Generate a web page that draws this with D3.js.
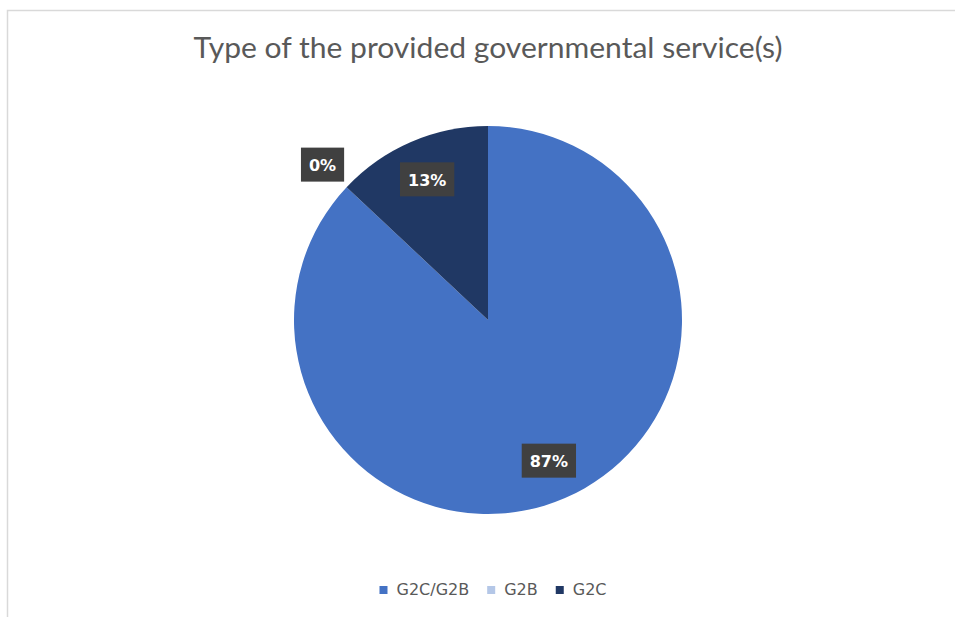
<!DOCTYPE html>
<html>
<head>
<meta charset="utf-8">
<script src="https://cdn.jsdelivr.net/npm/d3@7"></script>
<style>
  html, body { margin: 0; padding: 0; background: #ffffff; }
  svg { display: block; }
</style>
</head>
<body>
<svg id="chart" width="955" height="617"></svg>
<script>
// Service types and their shares (percent)
const categories = ["G2C/G2B", "G2B", "G2C"];
const shares = [87, 0, 13];
const colors = ["#4472C4", "#B4C7E7", "#203864"];
const chartTitle = "Type of the provided governmental service(s)";

const width = 955, height = 617;
const cx = 488, cy = 320, radius = 194;

const svg = d3.select("#chart");

// outer chart frame
svg.append("rect")
  .attr("x", 7.5).attr("y", 10.5)
  .attr("width", width + 20).attr("height", height + 20)
  .attr("fill", "#ffffff")
  .attr("stroke", "#d9d9d9").attr("stroke-width", 1.5);

// title
svg.append("text")
  .attr("x", cx).attr("y", 58)
  .attr("text-anchor", "middle")
  .attr("font-family", "Lato, 'Open Sans', sans-serif")
  .attr("font-size", 28)
  .attr("fill", "#595959")
  .attr("textLength", 589)
  .attr("lengthAdjust", "spacingAndGlyphs")
  .text(chartTitle);

const data = categories.map((c, i) => ({ name: c, value: shares[i], color: colors[i] }));

const pie = d3.pie().sort(null).value(d => d.value).startAngle(0).endAngle(2 * Math.PI);
const arcs = pie(data);

const arc = d3.arc().innerRadius(0).outerRadius(radius);

const g = svg.append("g").attr("transform", `translate(${cx},${cy})`);

g.selectAll("path.slice")
  .data(arcs.filter(a => a.value > 0))
  .join("path")
  .attr("class", "slice")
  .attr("d", arc)
  .attr("fill", d => d.data.color);

// data labels: inside for visible slices, outside for empty ones
const innerLabelArc = d3.arc().innerRadius(radius * 0.79).outerRadius(radius * 0.79);
const outerLabelArc = d3.arc().innerRadius(radius * 1.17).outerRadius(radius * 1.17);

const labels = g.selectAll("g.label")
  .data(arcs)
  .join("g")
  .attr("class", "label")
  .attr("transform", d => {
    const p = d.value > 0 ? innerLabelArc.centroid(d) : outerLabelArc.centroid(d);
    return `translate(${p[0]},${p[1]})`;
  });

labels.each(function(d) {
  const sel = d3.select(this);
  const txt = sel.append("text")
    .attr("text-anchor", "middle")
    .attr("dominant-baseline", "central")
    .attr("y", 1)
    .attr("font-family", "'DejaVu Sans', sans-serif")
    .attr("font-weight", "bold")
    .attr("font-size", 16)
    .attr("fill", "#ffffff")
    .text(d3.format(".0f")(d.data.value) + "%");
  const w = txt.node().getComputedTextLength() + 16;
  sel.insert("rect", "text")
    .attr("x", -w / 2).attr("y", -17)
    .attr("width", w).attr("height", 34)
    .attr("fill", "#404040");
});

// legend
const legend = svg.append("g");
let xPos = 0;
data.forEach((d, i) => {
  const item = legend.append("g").attr("transform", `translate(${xPos},0)`);
  item.append("rect")
    .attr("x", 0).attr("y", -9)
    .attr("width", 8).attr("height", 8)
    .attr("fill", d.color);
  const t = item.append("text")
    .attr("x", 17).attr("y", 0)
    .attr("font-family", "'DejaVu Sans', sans-serif")
    .attr("font-size", 16)
    .attr("fill", "#595959")
    .text(d.name);
  xPos += 17 + t.node().getComputedTextLength() + 18;
});
const legendWidth = xPos - 18;
legend.attr("transform", `translate(${493 - legendWidth / 2},595)`);
</script>
</body>
</html>
